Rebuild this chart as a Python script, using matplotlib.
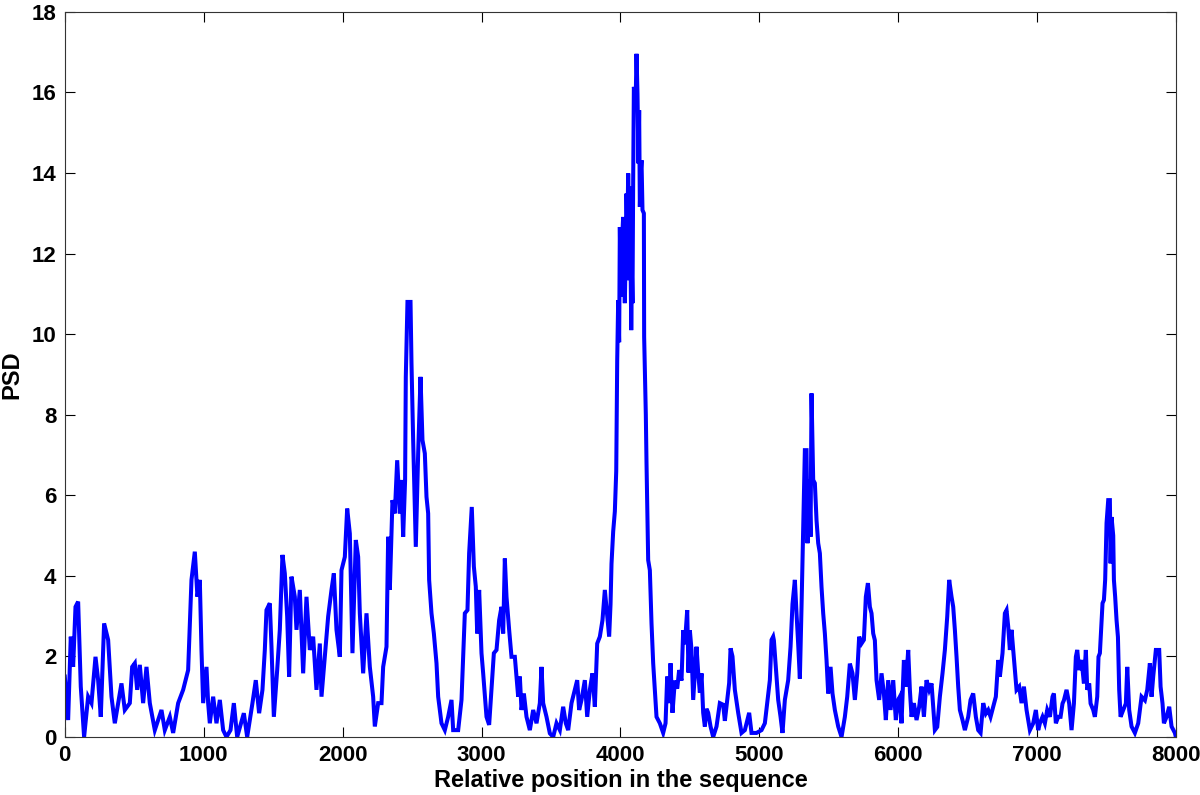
import matplotlib
matplotlib.use("Agg")
import matplotlib.pyplot as plt  # noqa: E402

# positions along the sequence and PSD values
pos = [
    0, 24, 43, 60, 77, 96, 115, 139, 168, 192, 221, 240, 259, 283, 312, 336,
    360, 408, 432, 468, 485, 504, 521, 540, 564, 588, 612, 648, 696, 720, 756,
    780, 816, 852, 888, 912, 936, 955, 972, 984, 996, 1020, 1032, 1044, 1068,
    1092, 1116, 1140, 1164, 1193, 1217, 1241, 1289, 1313, 1351, 1375, 1399,
    1423, 1440, 1452, 1476, 1488, 1505, 1529, 1548, 1567, 1584, 1601, 1615,
    1632, 1656, 1668, 1692, 1716, 1740, 1764, 1788, 1812, 1836, 1848, 1872,
    1896, 1920, 1937, 1956, 1980, 1992, 2016, 2033, 2052, 2071, 2095, 2112,
    2124, 2136, 2148, 2172, 2196, 2220, 2232, 2256, 2280, 2292, 2316, 2328,
    2340, 2359, 2376, 2393, 2412, 2424, 2436, 2450, 2455, 2467, 2489, 2496,
    2508, 2527, 2544, 2561, 2575, 2592, 2604, 2616, 2623, 2640, 2657, 2676,
    2688, 2712, 2736, 2760, 2784, 2796, 2832, 2856, 2880, 2899, 2911, 2930,
    2945, 2959, 2969, 2983, 3000, 3012, 3036, 3055, 3072, 3089, 3108, 3127,
    3144, 3156, 3168, 3180, 3199, 3216, 3240, 3252, 3264, 3276, 3288, 3305,
    3324, 3348, 3372, 3396, 3420, 3432, 3444, 3468, 3492, 3516, 3540, 3564,
    3588, 3607, 3624, 3648, 3672, 3689, 3703, 3720, 3744, 3761, 3780, 3799,
    3816, 3833, 3852, 3871, 3888, 3905, 3919, 3929, 3936, 3948, 3960, 3970,
    3977, 3984, 3991, 3996, 4002, 4008, 4014, 4020, 4026, 4032, 4038, 4044,
    4050, 4056, 4060, 4063, 4068, 4073, 4078, 4083, 4087, 4092, 4097, 4104,
    4111, 4116, 4123, 4127, 4130, 4135, 4140, 4146, 4152, 4159, 4169, 4171,
    4176, 4183, 4188, 4200, 4212, 4224, 4236, 4248, 4260, 4284, 4308, 4325,
    4337, 4351, 4361, 4375, 4392, 4409, 4423, 4440, 4452, 4464, 4481, 4490,
    4500, 4512, 4524, 4548, 4560, 4572, 4584, 4596, 4608, 4620, 4632, 4649,
    4668, 4692, 4716, 4740, 4752, 4769, 4783, 4793, 4807, 4824, 4848, 4872,
    4896, 4927, 4944, 4980, 5016, 5040, 5057, 5076, 5088, 5100, 5105, 5119,
    5136, 5153, 5167, 5184, 5208, 5225, 5239, 5256, 5268, 5280, 5292, 5304,
    5316, 5328, 5340, 5347, 5359, 5369, 5376, 5388, 5400, 5412, 5424, 5436,
    5448, 5460, 5472, 5484, 5496, 5513, 5527, 5544, 5568, 5592, 5616, 5633,
    5652, 5671, 5688, 5705, 5719, 5736, 5753, 5767, 5782, 5796, 5808, 5820,
    5832, 5844, 5863, 5880, 5897, 5911, 5928, 5945, 5964, 5983, 6000, 6012,
    6024, 6041, 6055, 6072, 6084, 6096, 6113, 6132, 6151, 6168, 6185, 6204,
    6223, 6240, 6252, 6264, 6281, 6300, 6319, 6336, 6353, 6367, 6384, 6396,
    6408, 6420, 6432, 6444, 6463, 6480, 6504, 6521, 6540, 6559, 6576, 6593,
    6612, 6631, 6648, 6665, 6684, 6703, 6720, 6732, 6751, 6768, 6780, 6792,
    6804, 6816, 6828, 6840, 6852, 6871, 6888, 6905, 6924, 6948, 6972, 6991,
    7008, 7020, 7039, 7056, 7073, 7092, 7111, 7121, 7135, 7152, 7169, 7183,
    7193, 7212, 7231, 7248, 7265, 7279, 7289, 7303, 7320, 7337, 7351, 7361,
    7375, 7385, 7404, 7416, 7433, 7442, 7452, 7462, 7471, 7481, 7490, 7500,
    7512, 7524, 7529, 7536, 7548, 7553, 7562, 7572, 7582, 7591, 7601, 7620,
    7639, 7649, 7663, 7680, 7704, 7728, 7752, 7776, 7793, 7812, 7824, 7836,
    7855, 7879, 7889, 7903, 7913, 7932, 7951, 7968, 7992, 7999,
]
psd = [
    1.50, 0.42, 2.49, 1.74, 3.23, 3.36, 1.25, 0.00, 1.00, 0.84, 1.99, 1.41,
    0.50, 2.82, 2.41, 1.00, 0.34, 1.33, 0.67, 0.84, 1.74, 1.83, 1.17, 1.79,
    0.84, 1.74, 0.84, 0.17, 0.67, 0.17, 0.50, 0.10, 0.84, 1.17, 1.66, 3.90,
    4.60, 3.48, 3.90, 2.16, 0.84, 1.74, 0.84, 0.34, 1.00, 0.34, 0.92, 0.17,
    0.00, 0.17, 0.84, 0.00, 0.59, 0.00, 0.84, 1.41, 0.59, 1.17, 2.16, 3.15,
    3.32, 2.24, 0.50, 1.66, 2.66, 4.52, 4.06, 2.99, 1.50, 3.98, 3.48, 2.66,
    3.65, 1.58, 3.48, 2.16, 2.49, 1.17, 2.32, 1.00, 1.99, 2.99, 3.65, 4.06,
    2.66, 1.99, 4.14, 4.47, 5.67, 5.05, 2.08, 4.89, 4.47, 3.07, 2.32, 1.58,
    3.07, 1.74, 1.00, 0.26, 0.84, 0.84, 1.74, 2.24, 4.97, 3.65, 5.88, 5.55,
    6.87, 5.55, 6.38, 4.97, 6.38, 8.94, 10.80, 10.80, 9.27, 7.37, 4.72, 7.04,
    8.94, 7.37, 7.04, 5.96, 5.55, 3.90, 3.07, 2.57, 1.83, 1.00, 0.34, 0.17,
    0.50, 0.92, 0.17, 0.17, 0.92, 3.07, 3.15, 4.56, 5.71, 4.23, 3.73, 2.57,
    3.65, 2.08, 1.58, 0.50, 0.30, 1.17, 2.08, 2.16, 2.90, 3.23, 2.57, 4.43,
    3.48, 2.66, 1.99, 1.99, 1.50, 1.00, 1.50, 0.67, 1.08, 0.50, 0.17, 0.67,
    0.34, 0.84, 1.74, 0.84, 0.50, 0.09, 0.00, 0.34, 0.17, 0.75, 0.34, 0.17,
    0.84, 1.17, 1.41, 0.67, 0.92, 1.41, 0.50, 1.17, 1.58, 0.75, 2.32, 2.49,
    2.90, 3.65, 3.00, 2.49, 3.30, 4.30, 5.10, 5.60, 6.60, 9.35, 10.84, 9.80,
    12.66, 11.20, 10.93, 12.50, 12.91, 11.50, 10.77, 12.00, 13.49, 12.50,
    13.99, 13.20, 11.34, 13.66, 12.00, 10.10, 11.50, 10.77, 13.82, 16.14,
    15.90, 16.00, 16.96, 15.97, 15.00, 14.24, 15.56, 13.16, 14.00, 14.32,
    13.08, 13.00, 9.93, 9.10, 8.00, 6.80, 4.39, 4.14, 2.82, 1.83, 1.17, 0.50,
    0.34, 0.10, 0.34, 1.50, 0.84, 1.83, 0.60, 1.40, 1.20, 1.66, 1.40, 2.65,
    2.30, 3.15, 1.60, 2.65, 2.16, 0.92, 2.24, 1.60, 1.10, 1.58, 0.60, 0.26,
    0.70, 0.60, 0.26, 0.00, 0.26, 0.84, 0.80, 0.40, 0.92, 1.34, 2.20, 2.00,
    1.17, 0.60, 0.10, 0.17, 0.60, 0.10, 0.10, 0.17, 0.34, 0.84, 1.41, 2.41,
    2.49, 2.40, 1.74, 0.92, 0.50, 0.10, 0.92, 1.41, 2.24, 3.30, 3.90, 3.07,
    2.30, 1.45, 3.23, 5.21, 7.12, 7.12, 4.81, 6.38, 4.97, 8.53, 6.38, 6.30,
    5.38, 4.81, 4.56, 3.72, 3.07, 2.57, 1.91, 1.08, 1.74, 1.08, 0.67, 0.26,
    0.00, 0.50, 1.00, 1.82, 1.58, 0.92, 1.58, 2.49, 2.32, 2.41, 3.48, 3.82,
    3.23, 3.07, 2.57, 2.40, 1.41, 0.92, 1.58, 1.08, 0.42, 1.41, 0.67, 1.41,
    0.42, 0.92, 1.00, 0.34, 1.91, 1.25, 2.16, 1.17, 0.50, 0.84, 0.42, 0.75,
    1.25, 0.50, 1.41, 1.17, 1.33, 0.75, 0.17, 0.25, 1.00, 1.58, 2.16, 2.99,
    3.90, 3.48, 3.23, 2.66, 1.99, 1.25, 0.67, 0.42, 0.17, 0.50, 0.92, 1.08,
    0.50, 0.17, 0.10, 0.84, 0.58, 0.67, 0.50, 0.75, 1.00, 1.91, 1.50, 2.08,
    3.07, 3.15, 2.74, 2.16, 2.66, 2.16, 1.66, 1.17, 1.25, 0.84, 1.25, 0.67,
    0.17, 0.34, 0.67, 0.17, 0.34, 0.50, 0.34, 0.67, 0.50, 1.00, 1.08, 0.34,
    0.50, 0.50, 0.83, 0.91, 1.17, 0.83, 0.17, 0.83, 1.99, 2.16, 1.66, 1.91,
    1.33, 2.16, 1.17, 1.33, 0.83, 0.67, 0.50, 1.00, 1.99, 2.08, 2.73, 3.32,
    3.40, 3.90, 5.31, 5.88, 5.88, 4.31, 5.46, 5.00, 3.90, 3.48, 2.90, 2.48,
    1.17, 0.50, 0.67, 0.83, 1.74, 0.67, 0.26, 0.10, 0.34, 1.00, 0.91, 1.17,
    1.83, 1.00, 1.50, 2.16, 2.16, 1.25, 0.83, 0.34, 0.50, 0.75, 0.26, 0.10,
    0.00,
]
x_ticks = list(range(0, 8001, 1000))
y_ticks = list(range(0, 19, 2))

plt.rcParams["font.family"] = ["Liberation Sans", "DejaVu Sans"]

fig = plt.figure(figsize=(12, 7.95), dpi=100)
ax = fig.add_axes([0.054, 0.073, 0.926, 0.912])
ax.plot(pos, psd, color="#0000ff", lw=2.9, solid_joinstyle="miter")

ax.set_xlim(0, 8000)
ax.set_ylim(0, 18)
ax.set_xticks(x_ticks)
ax.set_yticks(y_ticks)
ax.tick_params(direction="in", top=True, right=True, length=7, width=0.8,
               labelsize=16, pad=6)
for lab in ax.get_xticklabels() + ax.get_yticklabels():
    lab.set_fontweight("bold")
for sp in ax.spines.values():
    sp.set_linewidth(0.8)
    sp.set_color("#333333")

ax.set_xlabel("Relative position in the sequence", fontsize=17,
              fontweight="bold", labelpad=2)
ax.set_ylabel("PSD", fontsize=17, fontweight="bold", labelpad=6)

fig.savefig("out.png", dpi=100)
